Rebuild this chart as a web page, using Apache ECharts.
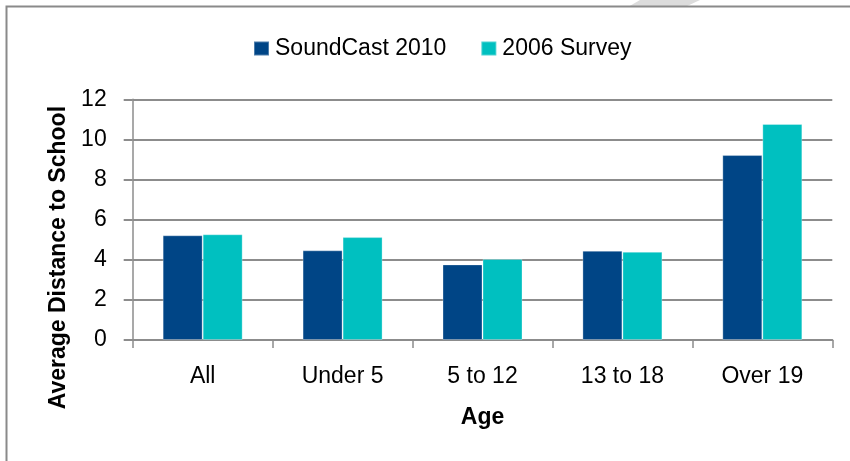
<!DOCTYPE html>
<html>
<head>
<meta charset="utf-8">
<style>
  html, body { margin: 0; padding: 0; background: #ffffff; }
  #chart { width: 850px; height: 461px; }
</style>
<script src="https://cdn.jsdelivr.net/npm/echarts@6/dist/echarts.min.js"></script>
</head>
<body>
<div id="chart"></div>
<script>
// Age groups on the horizontal axis
const ageGroups = ['All', 'Under 5', '5 to 12', '13 to 18', 'Over 19'];

// Average distance to school per age group
const soundCast2010 = [5.22, 4.47, 3.77, 4.45, 9.22];
const survey2006 = [5.27, 5.13, 4.04, 4.40, 10.77];

// Value axis settings
const yMin = 0;
const yMax = 12;
const yStep = 2;

const FONT = "'Liberation Sans', Arial, sans-serif";
const GRID_GREY = '#8c8c8c';

const chart = echarts.init(document.getElementById('chart'), null, { renderer: 'canvas' });

chart.setOption({
  backgroundColor: '#ffffff',
  animation: false,
  textStyle: { fontFamily: FONT, color: '#000000' },
  graphic: [
    // light diagonal band at the top edge
    {
      type: 'polygon',
      z: 0,
      shape: { points: [[628, 7], [685, 7], [700, 0], [640, 0]] },
      style: { fill: '#dcdcdc' }
    },
    // outer frame (top and left edges)
    {
      type: 'polyline',
      z: 1,
      shape: { points: [[6.5, 461], [6.5, 6.5], [850, 6.5]] },
      style: { stroke: '#8a8a8a', lineWidth: 2, fill: null }
    }
  ],
  legend: {
    left: 248,
    top: 32,
    itemWidth: 15,
    itemHeight: 14,
    itemGap: 34,
    icon: 'rect',
    textStyle: { fontFamily: FONT, fontSize: 23, color: '#000000', padding: [0, 0, 0, 1] },
    data: ['SoundCast 2010', '2006 Survey']
  },
  grid: {
    left: 132.7,
    right: 17.7,
    top: 99.3,
    bottom: 121
  },
  xAxis: {
    type: 'category',
    data: ageGroups,
    name: 'Age',
    nameLocation: 'middle',
    nameGap: 66,
    nameTextStyle: { fontFamily: FONT, fontSize: 23, fontWeight: 'bold', color: '#000000' },
    axisLine: { show: true, lineStyle: { color: GRID_GREY, width: 2 } },
    axisTick: { show: true, length: 8, lineStyle: { color: GRID_GREY, width: 1.5 } },
    axisLabel: { margin: 25, fontFamily: FONT, fontSize: 23, color: '#000000' },
    splitLine: { show: false }
  },
  yAxis: {
    type: 'value',
    min: yMin,
    max: yMax,
    interval: yStep,
    name: 'Average Distance to School',
    nameLocation: 'middle',
    nameRotate: 90,
    nameGap: 62,
    nameTextStyle: {
      fontFamily: FONT, fontSize: 23, fontWeight: 'bold', color: '#000000',
      padding: [0, 76, 0, 0]
    },
    axisLine: { show: true, lineStyle: { color: GRID_GREY, width: 1.5 } },
    axisTick: { show: true, length: 9, lineStyle: { color: GRID_GREY, width: 2 } },
    axisLabel: { margin: 26, fontFamily: FONT, fontSize: 23, color: '#000000' },
    splitLine: { show: true, lineStyle: { color: GRID_GREY, width: 2 } }
  },
  series: [
    {
      name: 'SoundCast 2010',
      type: 'bar',
      data: soundCast2010,
      barWidth: 40,
      barGap: '0%',
      itemStyle: { color: '#004586', borderColor: 'rgba(255,255,255,0.3)', borderWidth: 1 }
    },
    {
      name: '2006 Survey',
      type: 'bar',
      data: survey2006,
      barWidth: 40,
      barGap: '0%',
      itemStyle: { color: '#00c0c0', borderColor: 'rgba(255,255,255,0.3)', borderWidth: 1 }
    }
  ]
});
</script>
</body>
</html>
